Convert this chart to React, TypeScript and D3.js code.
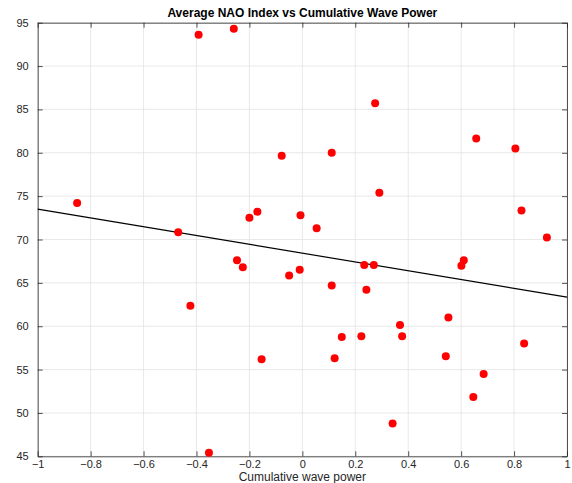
import * as d3 from "d3";
import React, { useEffect, useRef } from "react";

// cumulative wave power (x) and average NAO index (y)
const wavePower = [
  -0.851, -0.469, -0.392, -0.259, -0.2, -0.17, -0.078, -0.007, 0.054, 0.111,
  0.275, 0.291, 0.657, 0.805, 0.828, 0.924, -0.247, -0.225, -0.05, -0.01,
  -0.423, -0.154, -0.353, 0.111, 0.234, 0.27, 0.242, 0.149, 0.223, 0.369,
  0.377, 0.122, 0.341, 0.542, 0.552, 0.601, 0.61, 0.646, 0.685, 0.838,
];
const naoIndex = [
  74.2, 70.85, 93.6, 94.3, 72.5, 73.2, 79.65, 72.8, 71.3, 80.0,
  85.7, 75.4, 81.65, 80.5, 73.35, 70.24, 67.6, 66.8, 65.85, 66.5,
  62.35, 56.2, 45.4, 64.7, 67.07, 67.07, 64.2, 58.77, 58.85, 60.15,
  58.85, 56.3, 48.77, 56.54, 61.0, 66.96, 67.6, 51.85, 54.5, 58.0,
];

// fitted line end points
const fitX = [-1, 1];
const fitY = [73.5, 63.35];

const xTicks = [-1, -0.8, -0.6, -0.4, -0.2, 0, 0.2, 0.4, 0.6, 0.8, 1];
const yTicks = [45, 50, 55, 60, 65, 70, 75, 80, 85, 90, 95];

const title = "Average NAO Index vs Cumulative Wave Power";
const xLabel = "Cumulative wave power";

const App = () => {
  const ref = useRef<SVGSVGElement>(null);

  useEffect(() => {
    const width = 572;
    const height = 483;
    const margin = { top: 22.7, right: 5, bottom: 26.7, left: 37.7 };
    const w = width - margin.left - margin.right;
    const h = height - margin.top - margin.bottom;
    const font = "'Liberation Sans', Arial, Helvetica, sans-serif";

    const root = d3.select(ref.current);
    root.selectAll("*").remove();
    root.attr("width", width).attr("height", height);

    const svg = root
      .append("g")
      .attr("transform", `translate(${margin.left}, ${margin.top})`);

    const x = d3.scaleLinear().domain([-1, 1]).range([0, w]);
    const y = d3.scaleLinear().domain([45, 95]).range([h, 0]);

    // grid
    svg
      .append("g")
      .selectAll("line")
      .data(xTicks)
      .enter()
      .append("line")
      .attr("x1", (d) => x(d))
      .attr("x2", (d) => x(d))
      .attr("y1", 0)
      .attr("y2", h)
      .attr("stroke", "#e3e3e3")
      .attr("stroke-width", 0.8);
    svg
      .append("g")
      .selectAll("line")
      .data(yTicks)
      .enter()
      .append("line")
      .attr("y1", (d) => y(d))
      .attr("y2", (d) => y(d))
      .attr("x1", 0)
      .attr("x2", w)
      .attr("stroke", "#e3e3e3")
      .attr("stroke-width", 0.8);

    // axes with inward ticks, box on
    const styleAxis = (g, hideText) => {
      g.select(".domain").attr("stroke", "#262626").attr("stroke-width", 0.8);
      g.selectAll(".tick line").attr("stroke", "#262626").attr("stroke-width", 0.8);
      g.selectAll(".tick text")
        .attr("fill", "#262626")
        .style("font-family", font)
        .style("font-size", "11px");
      if (hideText) g.selectAll(".tick text").remove();
    };

    svg
      .append("g")
      .attr("transform", `translate(0, ${h})`)
      .call(d3.axisBottom(x).tickValues(xTicks).tickSize(-5).tickSizeOuter(0).tickPadding(4).tickFormat(d3.format("")))
      .call((g) => styleAxis(g, false));
    svg
      .append("g")
      .call(d3.axisTop(x).tickValues(xTicks).tickSize(-5).tickSizeOuter(0))
      .call((g) => styleAxis(g, true));
    svg
      .append("g")
      .call(d3.axisLeft(y).tickValues(yTicks).tickSize(-5).tickSizeOuter(0).tickPadding(9))
      .call((g) => styleAxis(g, false));
    svg
      .append("g")
      .attr("transform", `translate(${w}, 0)`)
      .call(d3.axisRight(y).tickValues(yTicks).tickSize(-5).tickSizeOuter(0))
      .call((g) => styleAxis(g, true));

    // fit line
    const line = d3
      .line<number>()
      .x((d) => x(d))
      .y((d, i) => y(fitY[i]));
    svg
      .append("path")
      .datum(fitX)
      .attr("d", line)
      .attr("fill", "none")
      .attr("stroke", "black")
      .attr("stroke-width", 1.2);

    // points
    svg
      .selectAll(".dot")
      .data(wavePower)
      .enter()
      .append("circle")
      .attr("class", "dot")
      .attr("cx", (d) => x(d))
      .attr("cy", (d, i) => y(naoIndex[i]))
      .attr("r", 4)
      .attr("fill", "#ff0000");

    svg
      .append("text")
      .attr("x", w / 2)
      .attr("y", -6)
      .attr("text-anchor", "middle")
      .style("font-family", font)
      .style("font-size", "12px")
      .style("font-weight", "bold")
      .attr("fill", "#000")
      .text(title);

    svg
      .append("text")
      .attr("x", w / 2)
      .attr("y", h + 25)
      .attr("text-anchor", "middle")
      .style("font-family", font)
      .style("font-size", "12px")
      .attr("fill", "#262626")
      .text(xLabel);
  }, []);

  return <svg ref={ref} style={{ position: "absolute", left: 0, top: 0 }}></svg>;
};

export default App;
